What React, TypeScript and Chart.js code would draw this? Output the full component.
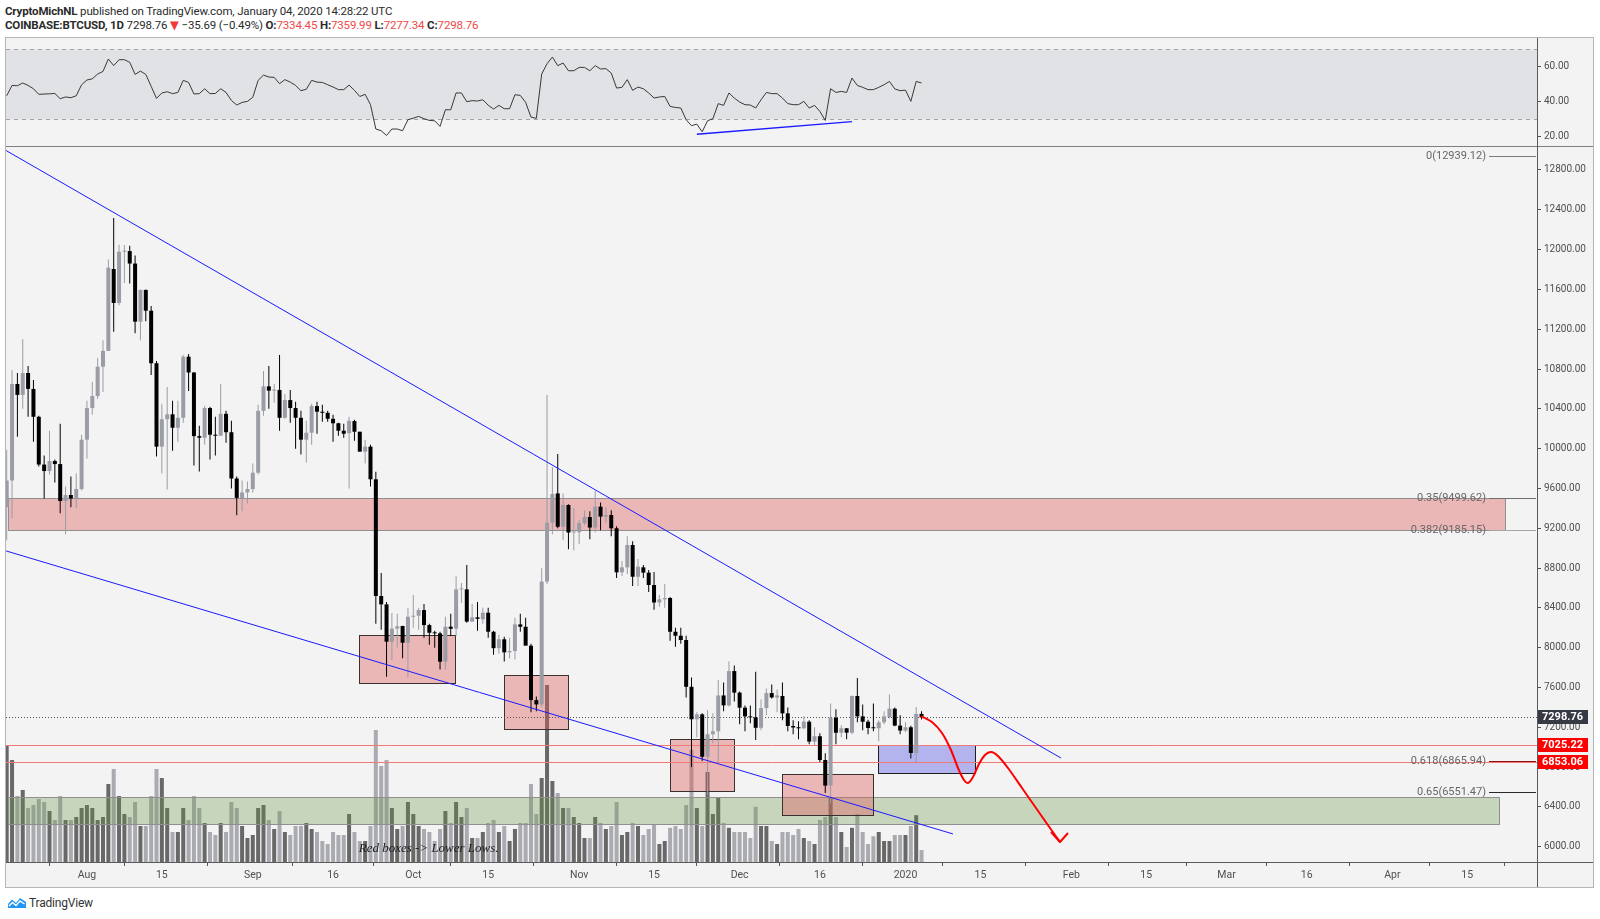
import React, { useEffect, useRef } from "react";
import { Chart, registerables } from "chart.js";

Chart.register(...registerables);

// Day index = days relative to 1 Jan 2020. First visible candle = 17 Jul 2019.
const FIRST_DAY = -168;

// COINBASE:BTCUSD daily candles [open, high, low, close]
const jul2019 = [
  [9410, 9990, 9080, 9680], [9680, 10790, 9300, 10650], [10650, 10760, 10120, 10540],
  [10540, 11100, 10400, 10760], [10760, 10830, 10320, 10600], [10600, 10690, 10070, 10320],
  [10320, 10330, 9820, 9840], [9840, 9930, 9500, 9775], [9775, 10180, 9740, 9876],
  [9876, 9890, 9660, 9845], [9845, 10250, 9350, 9474], [9474, 9620, 9140, 9534],
  [9534, 9720, 9410, 9500], [9500, 9750, 9400, 9594], [9594, 10140, 9580, 10090],
];
const aug2019 = [
  [10090, 10480, 9900, 10408], [10408, 10670, 10340, 10528], [10528, 10910, 10500, 10823],
  [10823, 11090, 10570, 10982], [10982, 11900, 10980, 11818], [11805, 12317, 11175, 11464],
  [11464, 12050, 11440, 11979], [11979, 12046, 11665, 11985], [11985, 12040, 11660, 11860],
  [11860, 11940, 11160, 11276], [11276, 11600, 11090, 11595], [11595, 11600, 11280, 11386],
  [11386, 11433, 10740, 10858], [10858, 10880, 9920, 10020], [10020, 10450, 9750, 10296],
  [10296, 10620, 9590, 10345], [10345, 10480, 9980, 10210], [10210, 10480, 10070, 10310],
  [10310, 10940, 10260, 10924], [10924, 10950, 10580, 10765], [10765, 10770, 9830, 10126],
  [10126, 10230, 9770, 10110], [10110, 10430, 10040, 10408], [10408, 10420, 9890, 10140],
  [10140, 10320, 9930, 10130], [10130, 10650, 10130, 10350], [10350, 10380, 10060, 10165],
  [10165, 10280, 9600, 9700], [9700, 9720, 9330, 9505], [9505, 9680, 9370, 9560],
  [9560, 9670, 9450, 9594],
];
const sep2019 = [
  [9594, 9850, 9560, 9758], [9758, 10440, 9740, 10380], [10380, 10780, 10330, 10626],
  [10626, 10830, 10400, 10583], [10583, 10650, 10460, 10590], [10590, 10940, 10180, 10310],
  [10310, 10550, 10300, 10488], [10488, 10590, 10260, 10408], [10408, 10470, 10000, 10310],
  [10310, 10380, 9940, 10090], [10090, 10280, 9860, 10160], [10160, 10450, 10040, 10428],
  [10428, 10470, 10150, 10371], [10371, 10440, 10270, 10360], [10360, 10380, 10270, 10300],
  [10300, 10340, 10070, 10255], [10255, 10260, 10130, 10180], [10180, 10250, 10110, 10150],
  [10155, 10320, 9600, 10280], [10277, 10290, 10080, 10170], [10170, 10170, 9970, 9970],
  [9970, 10090, 9850, 10020], [10020, 10040, 9620, 9692], [9692, 9767, 8240, 8519],
  [8519, 8750, 8180, 8435], [8435, 8460, 7708, 8060], [8060, 8348, 7876, 8191],
  [8191, 8340, 8000, 8215], [8218, 8220, 7893, 8050], [8050, 8400, 7698, 8311],
];
const oct2019 = [
  [8311, 8530, 8200, 8321], [8321, 8400, 8180, 8378], [8378, 8440, 8100, 8227],
  [8227, 8240, 8030, 8150], [8150, 8170, 8000, 8144], [8144, 8160, 7780, 7859],
  [7859, 8310, 7780, 8211], [8211, 8340, 8120, 8190], [8190, 8717, 8120, 8586],
  [8586, 8650, 8450, 8586], [8586, 8830, 8250, 8262], [8262, 8440, 8260, 8305],
  [8305, 8460, 8170, 8290], [8285, 8400, 8240, 8351], [8351, 8400, 8100, 8160],
  [8160, 8170, 7930, 7995], [7995, 8130, 7940, 8084], [8084, 8110, 7860, 7953],
  [7953, 8100, 7890, 7966], [7966, 8300, 7880, 8234], [8234, 8340, 8160, 8210],
  [8210, 8300, 8030, 8020], [8020, 8040, 7350, 7473], [7473, 7510, 7360, 7430],
  [7430, 8797, 7400, 8664], [8664, 10539, 8640, 9256], [9256, 9815, 9140, 9544],
  [9550, 9946, 9200, 9215], [9215, 9550, 9080, 9434], [9434, 9440, 8990, 9157],
  [9157, 9400, 8980, 9160],
];
const nov2019 = [
  [9160, 9280, 9040, 9252], [9252, 9380, 9230, 9313], [9313, 9370, 9090, 9207],
  [9207, 9574, 9160, 9417], [9417, 9460, 9180, 9317], [9317, 9410, 9250, 9333],
  [9333, 9380, 9120, 9200], [9200, 9220, 8700, 8757], [8757, 8870, 8720, 8807],
  [8807, 9120, 8740, 9032], [9032, 9070, 8620, 8713], [8713, 8890, 8620, 8814],
  [8807, 8830, 8700, 8754], [8754, 8780, 8560, 8630], [8630, 8760, 8380, 8454],
  [8454, 8530, 8410, 8486], [8486, 8640, 8400, 8499], [8499, 8510, 8070, 8160],
  [8160, 8200, 8010, 8120], [8120, 8200, 8040, 8077], [8077, 8120, 7500, 7607],
  [7607, 7700, 6800, 7280], [7280, 7350, 7100, 7330], [7330, 7340, 6860, 6904],
  [6904, 7370, 6520, 7130], [7130, 7340, 7040, 7160], [7160, 7675, 6850, 7520],
  [7520, 7650, 7360, 7420], [7420, 7862, 7410, 7765], [7765, 7820, 7460, 7548],
];
const dec2019 = [
  [7548, 7560, 7230, 7397], [7397, 7420, 7160, 7310], [7310, 7420, 7240, 7300],
  [7300, 7758, 7072, 7195], [7195, 7480, 7170, 7393], [7393, 7590, 7320, 7544],
  [7544, 7630, 7490, 7500], [7500, 7580, 7350, 7520], [7514, 7650, 7270, 7340],
  [7340, 7400, 7160, 7213], [7213, 7270, 7130, 7198], [7198, 7260, 7080, 7190],
  [7190, 7310, 7180, 7256], [7256, 7270, 7030, 7056], [7056, 7200, 7020, 7110],
  [7110, 7140, 6850, 6871], [6871, 6940, 6540, 6614], [6614, 7440, 6435, 7296],
  [7296, 7380, 7030, 7145], [7145, 7220, 7100, 7190], [7190, 7190, 7080, 7146],
  [7146, 7520, 7130, 7514], [7514, 7695, 7250, 7310], [7310, 7430, 7170, 7256],
  [7256, 7275, 7130, 7193], [7193, 7440, 7160, 7190], [7190, 7270, 7060, 7250],
  [7250, 7360, 7230, 7310], [7303, 7530, 7290, 7387], [7387, 7400, 7210, 7217],
  [7217, 7320, 7130, 7167],
];
const jan2020 = [
  [7167, 7250, 7150, 7200], [7200, 7215, 6887, 6942], [6942, 7404, 6850, 7334],
  [7334.45, 7359.99, 7277.34, 7298.76],
];

// Volume, thousand BTC
const volJul = [19.5, 17, 11, 12, 9, 9.5, 10.5, 10, 8.5, 7, 11, 7, 7, 7.5, 9];
const volAug = [9.5, 9, 7, 7.5, 13, 15.5, 11, 8, 7.5, 10, 6, 6, 11, 15.5, 14, 9, 5, 5, 9, 7, 11, 9, 6.5, 5, 4.5, 6.5, 5, 10, 9, 6, 4];
const volSep = [4.5, 9, 9.5, 7, 5.5, 8.5, 5, 4.5, 6, 6, 6.5, 5.5, 5, 3.5, 3, 5, 4.5, 4.5, 8, 5, 3.5, 3.5, 6, 22, 16, 17, 9, 5.5, 6, 10];
const volOct = [8, 6, 5.5, 5, 3.5, 5.5, 8.5, 6.5, 10, 7.5, 9, 4, 4, 5, 6.5, 7, 5, 6, 3.5, 5.5, 6.5, 6.5, 13, 8, 14, 29.5, 13.5, 11.5, 9, 9, 7.5];
const volNov = [6.5, 4, 4, 7.5, 6.5, 5.5, 6, 10, 4.5, 5, 6.5, 6, 4.5, 5.5, 6.2, 3, 3.5, 5.7, 6, 5.5, 9.5, 18.7, 9, 6, 15, 8, 10.7, 6.5, 5.7, 5];
const volDec = [5, 5, 4, 9.2, 6, 6, 3.5, 3, 5, 5, 4.5, 5.5, 4, 3.5, 3, 7, 7.5, 10.8, 7.5, 5, 2.5, 5.7, 8, 5, 3, 4.3, 5, 3.5, 3.5, 4.5, 4.5];
const volJan = [4.5, 6, 7.8, 2];

// RSI(14)
const rsiJul = [43.4, 49.3, 49.1, 50.7, 49.3, 47.4, 44.2, 44.4, 44.5, 44.7, 41.7, 42.7, 42.3, 43.4, 49.7];
const rsiAug = [52.4, 53.1, 55.8, 57.3, 64.4, 60.6, 64, 64, 62.5, 55.6, 57.5, 55.6, 48.8, 41.9, 45, 45.7, 44.6, 45.3, 52.2, 51, 44.4, 44.6, 47.4, 44.6, 44.7, 47.4, 45.3, 40.7, 38.1, 39.6, 40.2];
const rsiSep = [42.5, 52.2, 55.2, 54.1, 53.9, 50.3, 52.6, 51.2, 49.3, 46.3, 47.1, 52.2, 51.2, 51, 49.7, 48.4, 46.9, 46.9, 49.5, 46.5, 43, 44.2, 38.3, 24.4, 23.4, 20.7, 24.4, 24.4, 23.4, 29.7];
const rsiOct = [30.6, 31.6, 30.3, 29.3, 29.1, 25.9, 35.4, 35.4, 45, 45, 40, 40.6, 40.4, 41.1, 38, 35.8, 37.9, 36, 36, 44, 43.6, 39.6, 31.2, 30.5, 55.8, 61.7, 65.5, 60.6, 62.1, 57.7, 57.7];
const rsiNov = [59.6, 59.6, 57.7, 60.6, 58.7, 58.9, 56.4, 47.8, 48.2, 52.6, 46.5, 48.4, 47.4, 45, 42.1, 42.7, 43, 37.3, 36.7, 36.4, 29.7, 26.3, 27.2, 22.8, 29.1, 30.3, 38.9, 37.9, 45, 42.1];
const rsiDec = [39.8, 38.3, 38.1, 36.4, 41.1, 45.3, 44.6, 44.6, 42.1, 38.9, 38.3, 38.3, 40.2, 36.4, 37.9, 34.5, 29.3, 47.4, 45.3, 45.9, 45.3, 53.5, 49.3, 48.2, 46.9, 46.9, 48.2, 49.7, 51.6, 47.3, 46.3];
const rsiJan = [46.6, 40.2, 51.6, 50.7];

// Axes
const timeTickDays = [-153, -139, -122, -107, -92, -78, -61, -47, -31, -16, 0, 14, 31, 45, 60, 75, 91, 105];
const timeTickLabels = ["Aug", "15", "Sep", "16", "Oct", "15", "Nov", "15", "Dec", "16", "2020", "15", "Feb", "15", "Mar", "16", "Apr", "15"];
const priceTicks = [6000, 6400, 6800, 7200, 7600, 8000, 8400, 8800, 9200, 9600, 10000, 10400, 10800, 11200, 11600, 12000, 12400, 12800];
const rsiTicks = [20, 40, 60];
const RSI_UPPER = 70;
const RSI_LOWER = 30;

// Drawings
const fibRatios = ["0", "0.35", "0.382", "0.618", "0.65"];
const fibPrices = [12939.12, 9499.62, 9185.15, 6865.94, 6551.47];
const fibColors = ["#7b7b7b", "#6e6e6e", "#a5a5a5", "#8e1010", "#2a2a2a"];
const lastClose = 7298.76;
const alertLevels = [7025.22, 6853.06];
// [fromDay, toDay, lowPrice, highPrice]
const resistanceZone = [-167.8, 112.1, 9185.15, 9499.62];
const supportZone = [-167.8, 110.9, 6228, 6502];
const lowerLowBoxes = [
  [-102.1, -84.2, 7645, 8127],
  [-75.0, -63.1, 7183, 7725],
  [-44.0, -32.1, 6563, 7085],
  [-23.1, -6.1, 6319, 6734],
];
const targetBox = [-5.1, 13.0, 6741, 7025.22];
const upperTrendDays = [-168.1, 29.07];
const upperTrendPrices = [12995, 6891];
const lowerTrendDays = [-168.1, 8.88];
const lowerTrendPrices = [8972, 6128];
const rsiTrendDays = [-39.0, -10.0];
const rsiTrendValues = [21.4, 28.6];
const scenarioDays = [2.9, 4.95, 6.82, 8.5, 9.81, 10.93, 11.68, 12.62, 13.74, 14.86, 15.98, 17.29, 19.16, 21.78, 24.39, 27.01, 28.88];
const scenarioPrices = [7313, 7253, 7143, 6972, 6791, 6670, 6640, 6700, 6831, 6922, 6952, 6912, 6791, 6590, 6389, 6188, 6047];
const noteText = "Red boxes -> Lower Lows.";
const noteDay = -102.2;
const notePrice = 5977;

// Visible ranges
const DAY_MIN = -168.13;
const DAY_MAX = 118.04;
const PRICE_MIN = 5846.3;
const PRICE_MAX = 13031.1;
const RSI_MIN = 14.69;
const RSI_MAX = 76.4;
const VOL_MAX = 119.2;

const UP = "#9a9da5";
const DOWN = "#000000";
const VOL_UP = "rgba(50,50,50,0.72)";
const VOL_DOWN = "rgba(120,123,134,0.6)";
const BLUE = "#1a1aff";
const ZONE_RED = "rgba(220,90,90,0.4)";
const ZONE_GREEN = "rgba(100,146,66,0.3)";
const ZONE_BLUE = "rgba(60,60,230,0.35)";
const ALERT_LINE = "#f27878";
const FONT = 'Roboto, "DejaVu Sans", sans-serif';

const candles = [...jul2019, ...aug2019, ...sep2019, ...oct2019, ...nov2019, ...dec2019, ...jan2020];
const volume = [...volJul, ...volAug, ...volSep, ...volOct, ...volNov, ...volDec, ...volJan];
const rsi = [...rsiJul, ...rsiAug, ...rsiSep, ...rsiOct, ...rsiNov, ...rsiDec, ...rsiJan];

function drawBox(ctx: any, X: any, Y: any, box: number[], fill: string, stroke: string) {
  const x1 = Math.round(X(box[0])) + 0.5;
  const x2 = Math.round(X(box[1])) + 0.5;
  const yTop = Math.round(Y(box[3])) + 0.5;
  const yBot = Math.round(Y(box[2])) + 0.5;
  ctx.fillStyle = fill;
  ctx.fillRect(x1, yTop, x2 - x1, yBot - yTop);
  ctx.strokeStyle = stroke;
  ctx.lineWidth = 1;
  ctx.strokeRect(x1, yTop, x2 - x1, yBot - yTop);
}

const mainDecor = {
  id: "mainDecor",
  beforeDatasetDraw(chart: any, args: any) {
    if (args.index !== 1) return;
    const { ctx, chartArea: a } = chart;
    const X = (d: number) => chart.scales.x.getPixelForValue(d);
    const Y = (p: number) => chart.scales.y.getPixelForValue(p);
    ctx.save();
    ctx.beginPath();
    ctx.rect(a.left, a.top, a.right - a.left, a.bottom - a.top);
    ctx.clip();
    drawBox(ctx, X, Y, resistanceZone, ZONE_RED, "#8f8f8f");
    drawBox(ctx, X, Y, supportZone, ZONE_GREEN, "#8f8f8f");
    lowerLowBoxes.forEach((b) => drawBox(ctx, X, Y, b, ZONE_RED, "#3b3030"));
    drawBox(ctx, X, Y, targetBox, ZONE_BLUE, "#1e1e1e");
    ctx.setLineDash([]);
    ctx.lineWidth = 1;
    for (let i = 0; i < alertLevels.length; i++) {
      const y = Math.round(Y(alertLevels[i])) + 0.5;
      ctx.strokeStyle = ALERT_LINE;
      ctx.beginPath();
      ctx.moveTo(a.left, y);
      ctx.lineTo(a.right, y);
      ctx.stroke();
    }
    ctx.setLineDash([1, 2]);
    ctx.strokeStyle = "#555";
    const yl = Math.round(Y(lastClose)) + 0.5;
    ctx.beginPath();
    ctx.moveTo(a.left, yl);
    ctx.lineTo(a.right, yl);
    ctx.stroke();
    ctx.restore();
  },
  afterDatasetsDraw(chart: any) {
    const { ctx, chartArea: a } = chart;
    const X = (d: number) => chart.scales.x.getPixelForValue(d);
    const Y = (p: number) => chart.scales.y.getPixelForValue(p);
    ctx.save();
    ctx.font = 'italic 13px "Liberation Serif", "DejaVu Serif", serif';
    ctx.fillStyle = "#1e1e1e";
    ctx.textBaseline = "middle";
    ctx.textAlign = "left";
    ctx.fillText(noteText, X(noteDay), Y(notePrice));
    // arrow head of the scenario path
    const n = scenarioDays.length - 1;
    const tx = X(scenarioDays[n]);
    const ty = Y(scenarioPrices[n]);
    ctx.strokeStyle = "#ff0000";
    ctx.lineWidth = 2;
    ctx.lineJoin = "round";
    ctx.beginPath();
    ctx.moveTo(tx - 9, ty - 10);
    ctx.lineTo(tx, ty);
    ctx.lineTo(tx + 8, ty - 9);
    ctx.stroke();
    // fib labels
    ctx.font = "11px " + FONT;
    ctx.textAlign = "right";
    ctx.lineWidth = 1;
    fibPrices.forEach((p, i) => {
      const y = Math.round(Y(p)) + 0.5;
      ctx.strokeStyle = fibColors[i];
      ctx.beginPath();
      ctx.moveTo(a.right - 48, y);
      ctx.lineTo(a.right - 1, y);
      ctx.stroke();
      ctx.fillStyle = "#666";
      ctx.fillText(fibRatios[i] + "(" + p.toFixed(2) + ")", a.right - 51, y);
    });
    ctx.restore();
  },
  afterDraw(chart: any) {
    const { ctx, chartArea: a } = chart;
    const Y = (p: number) => chart.scales.y.getPixelForValue(p);
    const tags: [number, string][] = [
      [lastClose, "#363a45"],
      [alertLevels[0], "#ff0000"],
      [alertLevels[1], "#ff0000"],
    ];
    ctx.save();
    ctx.font = "bold 11px " + FONT;
    ctx.textAlign = "center";
    ctx.textBaseline = "middle";
    tags.forEach(([p, c]) => {
      const y = Math.round(Y(p));
      ctx.fillStyle = c;
      ctx.fillRect(a.right, y - 7, 51, 14);
      ctx.fillStyle = "#ffffff";
      ctx.fillText(p.toFixed(2), a.right + 25.5, y + 0.5);
    });
    ctx.restore();
  },
};

const rsiDecor = {
  id: "rsiDecor",
  beforeDatasetsDraw(chart: any) {
    const { ctx, chartArea: a } = chart;
    const y = chart.scales.y;
    const y70 = Math.round(y.getPixelForValue(RSI_UPPER)) + 0.5;
    const y30 = Math.round(y.getPixelForValue(RSI_LOWER)) + 0.5;
    ctx.save();
    ctx.fillStyle = "#e1e2e5";
    ctx.fillRect(a.left, y70, a.right - a.left, y30 - y70);
    ctx.strokeStyle = "#a3a3a3";
    ctx.lineWidth = 1;
    ctx.setLineDash([4, 4]);
    [y70, y30].forEach((yy) => {
      ctx.beginPath();
      ctx.moveTo(a.left, yy);
      ctx.lineTo(a.right, yy);
      ctx.stroke();
    });
    ctx.restore();
  },
};

const tickFont = { family: FONT, size: 10 };

function yAxis(min: number, max: number, ticks: number[]) {
  return {
    position: "right",
    min,
    max,
    bounds: "data",
    afterBuildTicks: (s: any) => {
      s.ticks = ticks.map((v) => ({ value: v }));
    },
    afterFit: (s: any) => {
      s.width = 56;
      s.paddingTop = 0;
      s.paddingBottom = 0;
    },
    ticks: {
      color: "#4f4f4f",
      font: tickFont,
      padding: 3,
      autoSkip: false,
      callback: (v: any) => Number(v).toFixed(2),
    },
    grid: { drawOnChartArea: false, drawTicks: true, tickLength: 4, color: "#555" },
    border: { display: false },
  };
}

function buildMain(canvas: HTMLCanvasElement) {
  const days = candles.map((_, i) => FIRST_DAY + i);
  const up = candles.map((c) => c[3] >= c[0]);
  return new Chart(canvas, {
    type: "bar",
    data: {
      datasets: [
        {
          type: "bar",
          label: "Volume",
          yAxisID: "vol",
          data: days.map((d, i) => ({ x: d, y: volume[i] })),
          backgroundColor: up.map((u) => (u ? VOL_UP : VOL_DOWN)),
          barThickness: 4,
          grouped: false,
          inflateAmount: 0,
          order: 6,
        },
        {
          type: "bar",
          label: "Wicks",
          yAxisID: "y",
          data: days.map((d, i) => ({ x: d, y: [candles[i][2], candles[i][1]] })),
          backgroundColor: up.map((u) => (u ? UP : DOWN)),
          barThickness: 1,
          grouped: false,
          inflateAmount: 0,
          order: 5,
        },
        {
          type: "bar",
          label: "Bodies",
          yAxisID: "y",
          data: days.map((d, i) => ({ x: d, y: [candles[i][0], candles[i][3]] })),
          backgroundColor: up.map((u) => (u ? UP : DOWN)),
          barThickness: 4,
          minBarLength: 1,
          grouped: false,
          inflateAmount: 0,
          order: 4,
        },
        {
          type: "line",
          label: "Upper trend",
          yAxisID: "y",
          data: upperTrendDays.map((d, i) => ({ x: d, y: upperTrendPrices[i] })),
          borderColor: BLUE,
          borderWidth: 1,
          pointRadius: 0,
          order: 3,
        },
        {
          type: "line",
          label: "Lower trend",
          yAxisID: "y",
          data: lowerTrendDays.map((d, i) => ({ x: d, y: lowerTrendPrices[i] })),
          borderColor: BLUE,
          borderWidth: 1,
          pointRadius: 0,
          order: 2,
        },
        {
          type: "line",
          label: "Scenario",
          yAxisID: "y",
          data: scenarioDays.map((d, i) => ({ x: d, y: scenarioPrices[i] })),
          borderColor: "#ff0000",
          borderWidth: 2,
          tension: 0.3,
          pointRadius: 0,
          order: 1,
        },
      ],
    },
    options: {
      animation: false,
      responsive: false,
      maintainAspectRatio: false,
      events: [],
      layout: { padding: 0, autoPadding: false },
      plugins: { legend: { display: false }, tooltip: { enabled: false } },
      scales: {
        x: {
          type: "linear",
          min: DAY_MIN,
          max: DAY_MAX,
          offset: false,
          bounds: "data",
          afterBuildTicks: (s: any) => {
            s.ticks = timeTickDays.map((v) => ({ value: v }));
          },
          afterFit: (s: any) => {
            s.height = 25;
            s.paddingLeft = 0;
            s.paddingRight = 0;
          },
          ticks: {
            autoSkip: false,
            maxRotation: 0,
            color: "#4f4f4f",
            font: { family: FONT, size: 10.5 },
            padding: 3,
            callback: (_v: any, i: number) => timeTickLabels[i],
          },
          grid: { drawOnChartArea: false, drawTicks: true, tickLength: 4, color: "#555" },
          border: { display: false },
        },
        y: yAxis(PRICE_MIN, PRICE_MAX, priceTicks),
        vol: { type: "linear", axis: "y", position: "left", display: false, min: 0, max: VOL_MAX },
      },
    } as any,
    plugins: [mainDecor],
  } as any);
}

function buildRsi(canvas: HTMLCanvasElement) {
  const days = rsi.map((_, i) => FIRST_DAY + i);
  return new Chart(canvas, {
    type: "line",
    data: {
      datasets: [
        {
          label: "RSI",
          data: days.map((d, i) => ({ x: d, y: rsi[i] })),
          borderColor: "#383838",
          borderWidth: 1,
          pointRadius: 0,
          tension: 0,
          order: 2,
        },
        {
          label: "RSI trend",
          data: rsiTrendDays.map((d, i) => ({ x: d, y: rsiTrendValues[i] })),
          borderColor: BLUE,
          borderWidth: 1.3,
          pointRadius: 0,
          order: 1,
        },
      ],
    },
    options: {
      animation: false,
      responsive: false,
      maintainAspectRatio: false,
      events: [],
      layout: { padding: 0, autoPadding: false },
      plugins: { legend: { display: false }, tooltip: { enabled: false } },
      scales: {
        x: { type: "linear", display: false, min: DAY_MIN, max: DAY_MAX, bounds: "data" },
        y: yAxis(RSI_MIN, RSI_MAX, rsiTicks),
      },
    } as any,
    plugins: [rsiDecor],
  } as any);
}

const RED_TXT = "#f04848";

export default function App() {
  const rsiRef = useRef<HTMLCanvasElement>(null);
  const mainRef = useRef<HTMLCanvasElement>(null);

  useEffect(() => {
    Chart.defaults.font.family = FONT;
    const r = buildRsi(rsiRef.current as HTMLCanvasElement);
    const m = buildMain(mainRef.current as HTMLCanvasElement);
    return () => {
      r.destroy();
      m.destroy();
    };
  }, []);

  const abs = (s: any) => ({ position: "absolute", ...s } as any);

  return (
    <div style={abs({ left: 0, top: 0, width: 1600, height: 919, background: "#ffffff", overflow: "hidden", fontFamily: FONT })}>
      <div style={abs({ left: 5, top: 4, fontSize: 11.5, lineHeight: "14px", color: "#2b2b2b", whiteSpace: "nowrap", letterSpacing: "-0.15px" })}>
        <div>
          <b>CryptoMichNL</b> published on TradingView.com, January 04, 2020 14:28:22 UTC
        </div>
        <div>
          <b>COINBASE:BTCUSD, 1D</b> 7298.76 <span style={{ color: "#f23a3a" }}>▼</span> −35.69 (−0.49%) <b>O:</b>
          <span style={{ color: RED_TXT }}>7334.45</span> <b>H:</b>
          <span style={{ color: RED_TXT }}>7359.99</span> <b>L:</b>
          <span style={{ color: RED_TXT }}>7277.34</span> <b>C:</b>
          <span style={{ color: RED_TXT }}>7298.76</span>
        </div>
      </div>

      <div style={abs({ left: 5, top: 37, width: 1589, height: 851, boxSizing: "border-box", border: "1px solid #b5b5b5", background: "#f3f3f3" })} />

      <canvas ref={rsiRef} width={1587} height={108} style={abs({ left: 6, top: 38, width: 1587, height: 108 })} />
      <canvas ref={mainRef} width={1587} height={740} style={abs({ left: 6, top: 147, width: 1587, height: 740 })} />

      <div style={abs({ left: 6, top: 146, width: 1587, height: 1, background: "#7e7e7e" })} />
      <div style={abs({ left: 6, top: 862, width: 1587, height: 1, background: "#5a5a5a" })} />
      <div style={abs({ left: 1537, top: 38, width: 1, height: 849, background: "#5a5a5a" })} />

      <div style={abs({ left: 8, top: 896, height: 14, display: "flex", alignItems: "center", gap: 3 })}>
        <svg width="18" height="12" viewBox="0 0 18 12">
          <path d="M0 11 L0 7 L4 2.5 L8 6 L12 1 L18 5 L18 11 Z" fill="#2196f3" />
          <polyline points="1,9 4.5,5.5 8,8.5 12,4 16.5,7" fill="none" stroke="#ffffff" strokeWidth="1.4" />
        </svg>
        <span style={{ fontSize: 12, color: "#333", letterSpacing: "-0.2px" }}>TradingView</span>
      </div>
    </div>
  );
}
